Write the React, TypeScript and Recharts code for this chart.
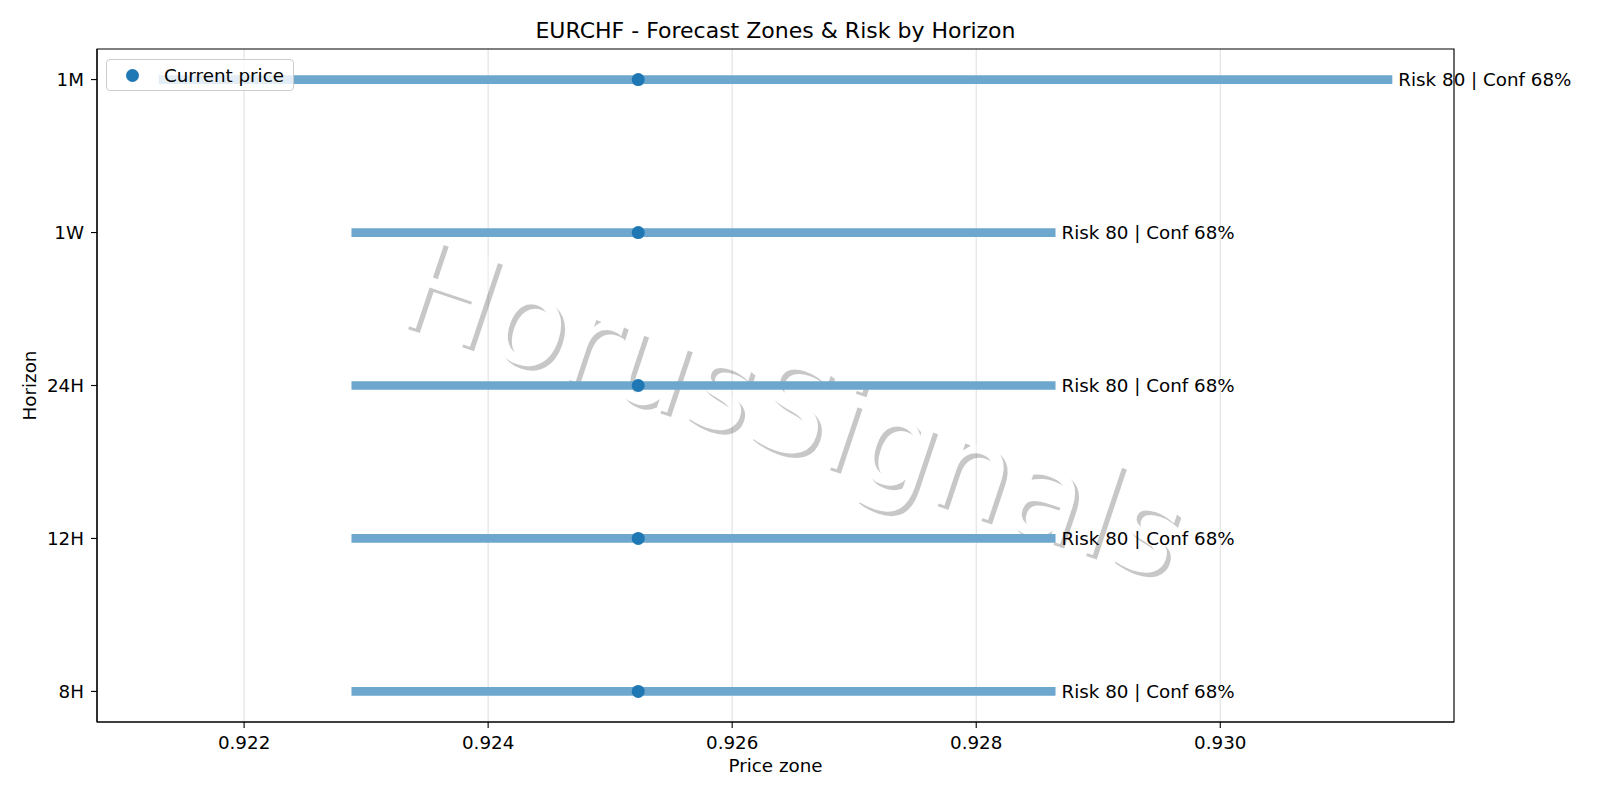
import { CartesianGrid, LabelList, ReferenceArea, Scatter, ScatterChart, XAxis, YAxis } from "recharts";

// forecast zones per horizon (bottom to top)
const horizons = ["8H", "12H", "24H", "1W", "1M"];
const zoneLow = [0.92288, 0.92288, 0.92288, 0.92288, 0.9213];
const zoneHigh = [0.92865, 0.92865, 0.92865, 0.92865, 0.93141];
const currentPrice = [0.92523, 0.92523, 0.92523, 0.92523, 0.92523];
const riskScore = [80, 80, 80, 80, 80];
const confidence = [68, 68, 68, 68, 68];
const priceTicks = [0.922, 0.924, 0.926, 0.928, 0.93];

const W = 1600;
const H = 800;
const BAR = "#6da7ce";
const DOT = "#1f77b4";
const FONT = "'DejaVu Sans', sans-serif";
const FS = 18.3;

const lo = Math.min(...zoneLow);
const hi = Math.max(...zoneHigh);
const pad = (hi - lo) * 0.05;
const xDomain = [lo - pad, hi + pad];
const yDomain = [-0.2, horizons.length - 1 + 0.2];

const zones = horizons.map((h, i) => ({
  name: h,
  points: [
    { x: zoneLow[i], y: i, label: "" },
    { x: zoneHigh[i], y: i, label: `Risk ${riskScore[i]} | Conf ${confidence[i]}%` },
  ],
}));
const dots = horizons.map((_, i) => ({ x: currentPrice[i], y: i }));

const noShape = () => <g />;

const dotShape = (props: any) => <circle cx={props.cx} cy={props.cy} r={6.5} fill={DOT} />;

const riskLabel = (props: any) => {
  if (!props.value) return null;
  const cx = props.x + (props.width || 0) / 2;
  const cy = props.y + (props.height || 0) / 2;
  return (
    <text x={cx + 6} y={cy} dy="0.36em" fontSize={FS} fill="#000" fontFamily={FONT}>
      {props.value}
    </text>
  );
};

const Watermark = () => {
  const t = "translate(779 450) rotate(18.5)";
  const txt = { fontSize: 125, textAnchor: "middle" as const, fontFamily: FONT };
  return (
    <g pointerEvents="none">
      <defs>
        <mask id="wm-cut" maskUnits="userSpaceOnUse" x={0} y={0} width={W} height={H}>
          <rect x={0} y={0} width={W} height={H} fill="#fff" />
          <text transform={t} {...txt} fill="#000">HorusSignals</text>
        </mask>
      </defs>
      <g mask="url(#wm-cut)">
        <text transform={`translate(4 4.5) ${t}`} {...txt} fill="#000" fillOpacity={0.22}>
          HorusSignals
        </text>
      </g>
      <text transform={t} {...txt} fill="#fff" fillOpacity={0.3}>HorusSignals</text>
    </g>
  );
};

const axisTick = { fill: "#000", fontSize: FS, fontFamily: FONT };
const axisLine = { stroke: "#000", strokeWidth: 1.1 };

export default function App() {
  return (
    <div style={{ position: "absolute", left: 0, top: 0, width: W, height: H, background: "#fff", fontFamily: FONT }}>
      <div style={{ position: "absolute", left: 97, width: 1357, top: 18, textAlign: "center", fontSize: 22, color: "#000" }}>
        EURCHF - Forecast Zones &amp; Risk by Horizon
      </div>
      <ScatterChart width={W} height={H} margin={{ top: 49, right: 146, bottom: 24, left: 17 }}>
        <CartesianGrid horizontal={false} stroke="#e3e3e3" strokeWidth={1.2} />
        <XAxis
          type="number"
          dataKey="x"
          domain={xDomain}
          ticks={priceTicks}
          allowDataOverflow
          tickFormatter={(v: number) => v.toFixed(3)}
          tick={axisTick}
          axisLine={axisLine}
          tickLine={axisLine}
          tickSize={6}
          tickMargin={8}
          height={54}
          label={{ value: "Price zone", position: "insideBottom", offset: 4, fill: "#000", fontSize: FS }}
        />
        <YAxis
          type="number"
          dataKey="y"
          domain={yDomain}
          ticks={horizons.map((_, i) => i)}
          allowDataOverflow
          tickFormatter={(v: number) => horizons[v] ?? ""}
          tick={axisTick}
          axisLine={axisLine}
          tickLine={axisLine}
          tickSize={6}
          tickMargin={7}
          width={80}
          label={{ value: "Horizon", angle: -90, position: "insideLeft", offset: 12.6, fill: "#000", fontSize: FS, style: { textAnchor: "middle" } }}
        />
        <ReferenceArea
          x1={xDomain[0]}
          x2={xDomain[1]}
          y1={yDomain[0]}
          y2={yDomain[1]}
          fill="none"
          fillOpacity={0}
          stroke="#000"
          strokeWidth={1.1}
          ifOverflow="visible"
        />
        {zones.map((z) => (
          <Scatter
            key={z.name}
            name={z.name}
            data={z.points}
            line={{ stroke: BAR, strokeWidth: 8.7 }}
            lineType="joint"
            shape={noShape}
            legendType="none"
            isAnimationActive={false}
          >
            <LabelList dataKey="label" content={riskLabel} />
          </Scatter>
        ))}
        <Watermark />
        <Scatter name="Current price" data={dots} shape={dotShape} isAnimationActive={false} />
      </ScatterChart>
      <div
        style={{
          position: "absolute",
          left: 106,
          top: 59,
          width: 186,
          height: 30,
          border: "1px solid #cccccc",
          borderRadius: 4,
          background: "rgba(255,255,255,0.8)",
          display: "flex",
          alignItems: "center",
          fontSize: FS,
          color: "#000",
        }}
      >
        <span style={{ display: "inline-block", width: 13, height: 13, borderRadius: "50%", background: DOT, marginLeft: 19 }} />
        <span style={{ marginLeft: 25 }}>Current price</span>
      </div>
    </div>
  );
}
